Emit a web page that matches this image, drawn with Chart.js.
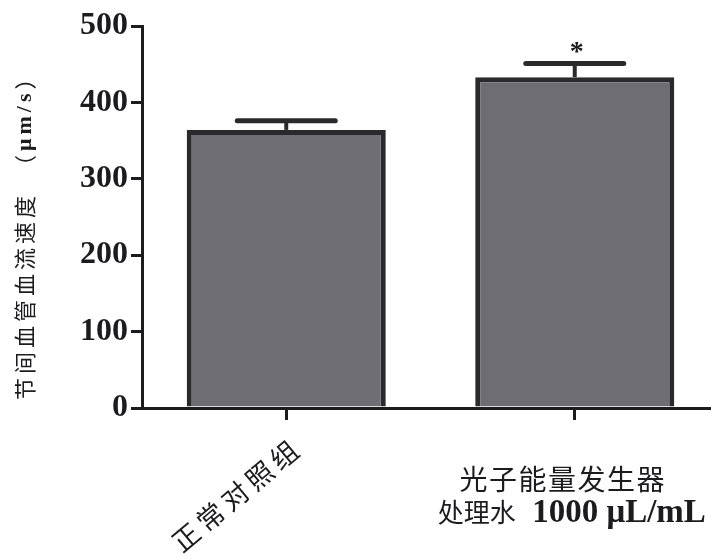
<!DOCTYPE html>
<html>
<head>
<meta charset="utf-8">
<script src="https://cdn.jsdelivr.net/npm/chart.js@4.4.1/dist/chart.umd.min.js"></script>
<style>
html, body { margin: 0; padding: 0; background: #fff; overflow: hidden; }
</style>
</head>
<body>
<canvas id="chart-flusso" width="720" height="559"></canvas>
<script>
// ============================
// DATI
// ============================
const gruppi = [['正常对照组'], ['光子能量发生器', '处理水  1000 μL/mL']];
const medie = [364, 433];
const errori = [12, 18];
const significativita = ['', '*'];
const tickY = [0, 100, 200, 300, 400, 500];
const titoloY = '节间血管血流速度　（μm/s）';

const NERO = '#1c1c1e';
const CJK = /[\u3000-\u9fff\uff00-\uffef]/;

// divide il testo in pezzi cinesi / latini
function spezza(testo) {
    const runs = [];
    for (const ch of testo) {
        const cjk = CJK.test(ch);
        const last = runs[runs.length - 1];
        if (last && last.cjk === cjk) last.t += ch;
        else runs.push({ t: ch, cjk: cjk });
    }
    return runs;
}

function imposta(ctx, r, st) {
    ctx.font = r.cjk ? st.cjk : st.lat;
    ctx.letterSpacing = (r.cjk ? st.sCjk : st.sLat) + 'px';
}

function misura(ctx, runs, st) {
    let w = 0;
    runs.forEach(r => {
        imposta(ctx, r, st);
        r.w = ctx.measureText(r.t).width;
        w += r.w;
    });
    return w;
}

function scrivi(ctx, runs, x, y, st) {
    runs.forEach(r => {
        imposta(ctx, r, st);
        ctx.fillText(r.t, x, y);
        x += r.w;
    });
}

// barre d'errore + asterischi
const erroriPlugin = {
    id: 'errori',
    afterDatasetsDraw(chart) {
        const ctx = chart.ctx;
        const y = chart.scales.y;
        const meta = chart.getDatasetMeta(0);
        ctx.save();
        ctx.strokeStyle = '#2a2a2d';
        ctx.fillStyle = NERO;
        meta.data.forEach((bar, i) => {
            const yBase = y.getPixelForValue(medie[i]);
            const yTop = y.getPixelForValue(medie[i] + errori[i]);
            ctx.lineCap = 'butt';
            ctx.lineWidth = 4;
            ctx.beginPath();
            ctx.moveTo(bar.x, yBase);
            ctx.lineTo(bar.x, yTop);
            ctx.stroke();
            ctx.lineCap = 'round';
            ctx.lineWidth = 5;
            ctx.beginPath();
            ctx.moveTo(bar.x - 49, yTop);
            ctx.lineTo(bar.x + 49, yTop);
            ctx.stroke();
            if (significativita[i]) {
                ctx.font = 'bold 28px "Liberation Serif"';
                ctx.textAlign = 'center';
                ctx.textBaseline = 'alphabetic';
                ctx.fillText(significativita[i], bar.x + 2, yTop - 3);
            }
        });
        ctx.restore();
    }
};

// etichette asse x e titolo asse y
const etichettePlugin = {
    id: 'etichette',
    afterDraw(chart) {
        const ctx = chart.ctx;
        const x = chart.scales.x;
        ctx.save();
        ctx.fillStyle = NERO;
        ctx.textAlign = 'left';

        // titolo y ruotato
        const stT = { cjk: '22px "Noto Sans CJK SC"', lat: 'bold 22px "Liberation Serif"', sCjk: 4, sLat: 4 };
        ctx.save();
        ctx.translate(25, 400);
        ctx.rotate(-Math.PI / 2);
        ctx.textBaseline = 'middle';
        const runsT = spezza(titoloY);
        misura(ctx, runsT, stT);
        scrivi(ctx, runsT, 0, 0, stT);
        ctx.restore();

        // primo gruppo, inclinato
        const x0 = x.getPixelForValue(0);
        const st1 = { cjk: '27px "Noto Sans CJK SC"', lat: 'bold 27px "Liberation Serif"', sCjk: 5, sLat: 0 };
        ctx.save();
        ctx.translate(x0 + 12, 443);
        ctx.rotate(-40 * Math.PI / 180);
        ctx.textBaseline = 'middle';
        const runs1 = spezza(gruppi[0][0]);
        const w1 = misura(ctx, runs1, st1);
        scrivi(ctx, runs1, -w1, 0, st1);
        ctx.restore();

        // secondo gruppo, due righe orizzontali
        const x1 = x.getPixelForValue(1);
        ctx.textBaseline = 'alphabetic';
        const righe = [
            { st: { cjk: '28px "Noto Sans CJK SC"', lat: 'bold 28px "Liberation Serif"', sCjk: 1.5, sLat: 0 }, dx: -12, y: 490 },
            { st: { cjk: '26px "Noto Sans CJK SC"', lat: 'bold 33px "Liberation Serif"', sCjk: 0, sLat: 0 }, dx: -3, y: 522 }
        ];
        gruppi[1].forEach((riga, k) => {
            const r = righe[k];
            const runs = spezza(riga);
            const w = misura(ctx, runs, r.st);
            scrivi(ctx, runs, x1 + r.dx - w / 2, r.y, r.st);
        });
        ctx.letterSpacing = '0px';
        ctx.restore();
    }
};

const ctxFlusso = document.getElementById('chart-flusso').getContext('2d');

new Chart(ctxFlusso, {
    type: 'bar',
    data: {
        labels: gruppi,
        datasets: [{
            label: '节间血管血流速度',
            data: medie,
            backgroundColor: '#6d6d73',
            borderColor: '#2a2a2d',
            borderWidth: 5,
            barPercentage: 0.69,
            categoryPercentage: 1
        }]
    },
    options: {
        responsive: false,
        animation: false,
        layout: { padding: { top: 26, right: 1, left: 0, bottom: 0 } },
        plugins: { legend: { display: false }, tooltip: { enabled: false } },
        scales: {
            x: {
                grid: { offset: false, drawOnChartArea: false, tickLength: 12, lineWidth: 3, color: NERO },
                border: { display: true, color: NERO, width: 3 },
                ticks: { display: false },
                afterFit: s => { s.height = 151; }
            },
            y: {
                min: 0,
                max: 500,
                afterBuildTicks: s => { s.ticks = tickY.map(v => ({ value: v })); },
                grid: { drawOnChartArea: false, tickLength: 11, lineWidth: 3, color: NERO },
                border: { display: true, color: NERO, width: 3 },
                ticks: {
                    color: NERO,
                    padding: 3,
                    font: { family: 'Liberation Serif', weight: 'bold', size: 32 }
                },
                afterFit: s => { s.width = 142; }
            }
        }
    },
    plugins: [erroriPlugin, etichettePlugin]
});
</script>
</body>
</html>
